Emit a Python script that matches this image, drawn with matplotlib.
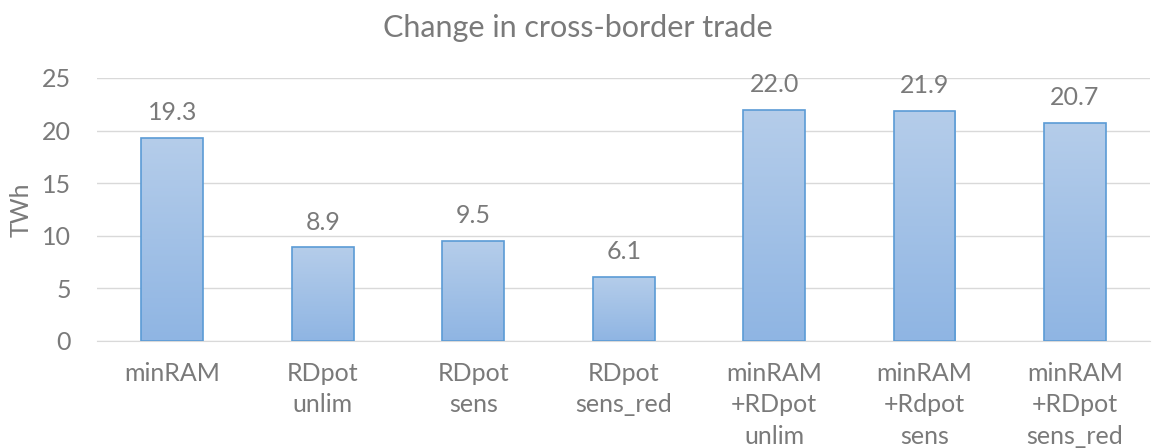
import numpy as np
import matplotlib.pyplot as plt
from matplotlib.colors import LinearSegmentedColormap

# Data
categories = ["minRAM", "RDpot\nunlim", "RDpot\nsens", "RDpot\nsens_red",
              "minRAM\n+RDpot\nunlim", "minRAM\n+Rdpot\nsens", "minRAM\n+RDpot\nsens_red"]
values = [19.3, 8.9, 9.5, 6.1, 22.0, 21.9, 20.7]
labels = ["19.3", "8.9", "9.5", "6.1", "22.0", "21.9", "20.7"]

plt.rcParams['font.family'] = ['Lato', 'DejaVu Sans']
grey = "#7a7a7a"

fig = plt.figure(figsize=(11.56, 4.48), dpi=100)
ax = fig.add_axes([0.084, 0.239, 0.911, 0.587])

x = np.arange(len(categories))
bars = ax.bar(x, values, width=0.41, color="none", edgecolor="#5b9bd5", linewidth=1.2, zorder=3)

# gradient fill inside each bar
cmap = LinearSegmentedColormap.from_list("grad", ["#8fb5e3", "#b5cdea"])
grad = np.linspace(0, 1, 256).reshape(-1, 1)
for b in bars:
    x0, y0 = b.get_x(), b.get_y()
    w, h = b.get_width(), b.get_height()
    im = ax.imshow(grad, extent=[x0, x0 + w, y0, y0 + h], origin="lower",
                   cmap=cmap, aspect="auto", zorder=2)
    im.set_clip_path(b)

for xi, v, lab in zip(x, values, labels):
    ax.text(xi, v + 2.4, lab, ha="center", va="center", fontsize=18, color=grey)

ax.set_xlim(-0.5, len(categories) - 0.5)
ax.set_ylim(0, 25)
ax.set_yticks([0, 5, 10, 15, 20, 25])
ax.set_xticks(x)
ax.set_xticklabels(categories, fontsize=18, color=grey, linespacing=1.45)
ax.tick_params(axis="y", labelsize=18, colors=grey, length=0, pad=19)
ax.tick_params(axis="x", length=0, pad=15)
ax.yaxis.grid(True, color="#d9d9d9", linewidth=1, zorder=0)
ax.set_axisbelow(True)
for s in ["top", "right", "left"]:
    ax.spines[s].set_visible(False)
ax.spines["bottom"].set_color("#d9d9d9")
ax.set_ylabel("TWh", fontsize=18, color=grey)
ax.yaxis.set_label_coords(-0.061, 0.5)
fig.text(0.5, 0.917, "Change in cross-border trade", fontsize=22, color=grey,
         ha="center", va="baseline")

fig.savefig("out.png", dpi=100)
